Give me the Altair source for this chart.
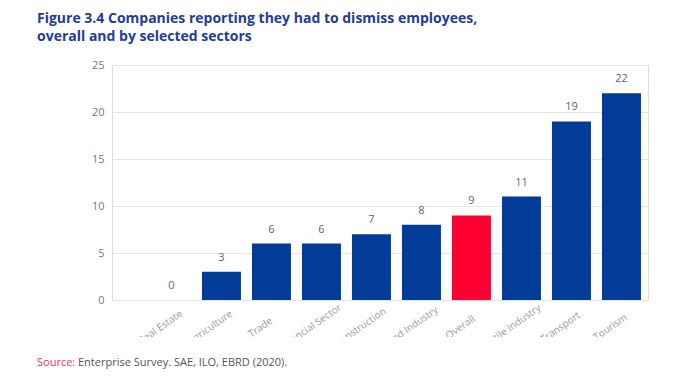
import altair as alt
import pandas as pd

sectors = ["Real Estate", "Agriculture", "Trade", "Financial Sector", "Construction",
           "Food Industry", "Overall", "Textile Industry", "Transport", "Tourism"]
values = [0, 3, 6, 6, 7, 8, 9, 11, 19, 22]
groups = ["Sector", "Sector", "Sector", "Sector", "Sector",
          "Sector", "Overall", "Sector", "Sector", "Sector"]
y_ticks = [0, 5, 10, 15, 20, 25]
title_lines = ["Figure 3.4 Companies reporting they had to dismiss employees,",
               "overall and by selected sectors"]
source_label = "Source:"
source_text = "Enterprise Survey. SAE, ILO, EBRD (2020)."

df = pd.DataFrame({"sector": sectors, "value": values, "group": groups})

FONT = "Open Sans"
W, H = 536, 235

x_enc = alt.X("sector:N", sort=sectors, title=None,
              scale=alt.Scale(paddingInner=0.22, paddingOuter=0.47, align=0.85),
              axis=alt.Axis(labelAngle=-35, labelColor="#9a9a9a", labelFontSize=10,
                            labelFont=FONT, domain=False, ticks=False,
                            labelAlign="center", labelBaseline="middle",
                            labelPadding=27, labelOffset=-11, grid=False))
y_enc = alt.Y("value:Q", title=None,
              scale=alt.Scale(domain=[0, 25], nice=False),
              axis=alt.Axis(values=y_ticks, labelColor="#777777", labelFontSize=11,
                            labelFont=FONT, domain=False, ticks=False, labelPadding=8,
                            gridColor="#e6e6e6", gridWidth=1))

base = alt.Chart(df)
bars = base.mark_bar().encode(
    x=x_enc, y=y_enc,
    color=alt.Color("group:N", legend=None,
                    scale=alt.Scale(domain=["Sector", "Overall"], range=["#023c98", "#ff0033"])),
)
labels = base.mark_text(dy=-9, baseline="bottom", fontSize=11, font=FONT, color="#666666").encode(
    x=alt.X("sector:N", sort=sectors), y="value:Q", text="value:Q"
)

one = alt.Chart(pd.DataFrame({"a": [0]}))
cover = one.mark_rect(color="white").encode(
    x=alt.value(-60), x2=alt.value(560), y=alt.value(H + 37), y2=alt.value(H + 80)
)
src1 = one.mark_text(align="left", baseline="middle", fontSize=11, font=FONT, color="#e8365a").encode(
    x=alt.value(-75), y=alt.value(H + 63), text=alt.value(source_label)
)
src2 = one.mark_text(align="left", baseline="middle", fontSize=11, font=FONT, color="#555555").encode(
    x=alt.value(-34), y=alt.value(H + 63), text=alt.value(source_text)
)

chart = alt.layer(bars, labels, cover, src1, src2).properties(
    width=W, height=H,
    title=alt.TitleParams(text=title_lines, anchor="start", frame="group", dx=-75,
                          font=FONT, fontSize=14, fontWeight="bold", color="#233c96",
                          offset=15, lineHeight=18),
    autosize=alt.AutoSizeParams(type="none"),
    padding={"left": 104, "top": 57, "right": 43, "bottom": 84},
).configure_view(strokeWidth=0).configure(background="white")

chart.save("out.html", embed_options={"renderer": "svg", "actions": False})
